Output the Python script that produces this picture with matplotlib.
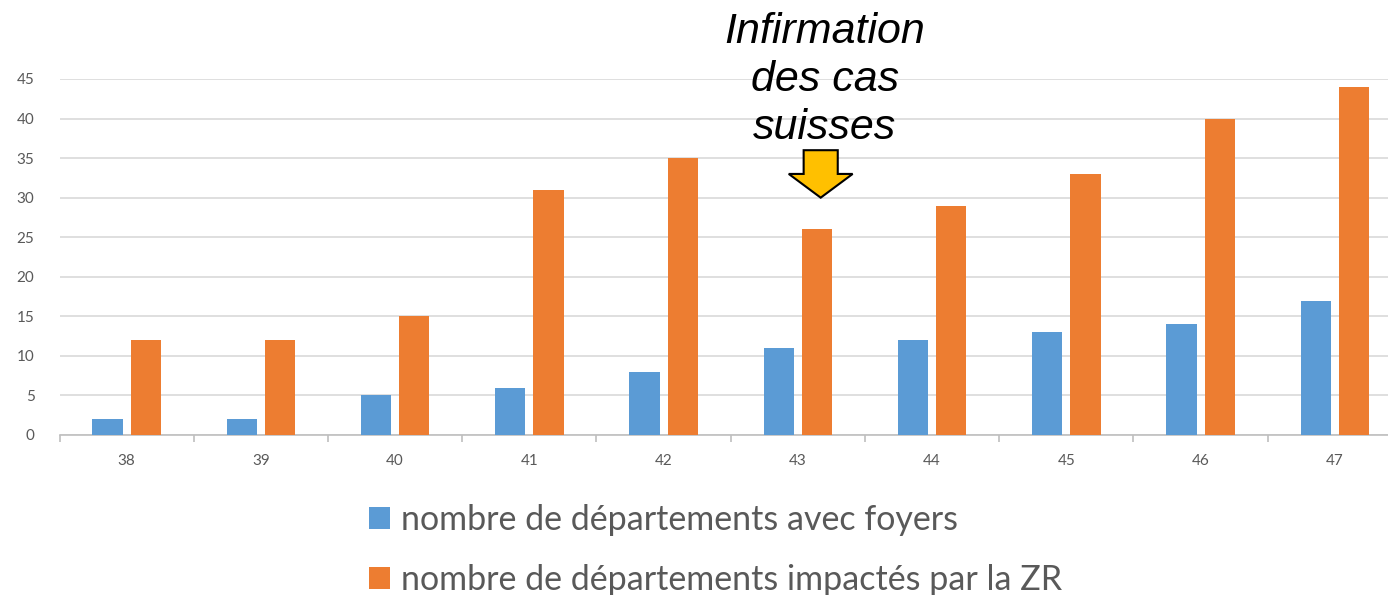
import matplotlib
matplotlib.use("Agg")
import matplotlib.pyplot as plt
from matplotlib.patches import FancyArrow
import numpy as np

weeks = ["38", "39", "40", "41", "42", "43", "44", "45", "46", "47"]
foyers = [2, 2, 5, 6, 8, 11, 12, 13, 14, 17]
zr = [12, 12, 15, 31, 35, 26, 29, 33, 40, 44]
label_foyers = "nombre de départements avec foyers"
label_zr = "nombre de départements impactés par la ZR"
annot_text = "Infirmation\ndes cas\nsuisses"
annot_week = "43"

blue = "#5B9BD5"
orange = "#ED7D31"
grey_txt = "#595959"

W, H = 1388, 595
fig = plt.figure(figsize=(W / 100, H / 100), dpi=100)
left_px, right_px = 59.5, 1402
bot_px, top_px = 435, 79
ax = fig.add_axes([left_px / W, (H - bot_px) / H, (right_px - left_px) / W, (bot_px - top_px) / H])

x = np.arange(len(weeks))
bw = 0.225
off = 0.142
ax.bar(x - off, foyers, bw, color=blue, label=label_foyers, zorder=3)
ax.bar(x + off, zr, bw, color=orange, label=label_zr, zorder=3)

ax.set_xlim(-0.5, len(weeks) - 0.5)
ax.set_ylim(0, 45)
ax.set_yticks(range(0, 46, 5))
ax.yaxis.grid(True, color="#D9D9D9", linewidth=1.2, zorder=0)
ax.set_axisbelow(True)
for s in ["top", "right", "left"]:
    ax.spines[s].set_visible(False)
ax.spines["bottom"].set_color("#BFBFBF")
ax.spines["bottom"].set_linewidth(1.2)
ax.set_xticks(x)
ax.set_xticklabels(weeks)
ax.set_xticks(np.arange(-0.5, len(weeks), 1), minor=True)
ax.tick_params(axis="x", which="major", length=0, pad=14, labelsize=11, labelcolor=grey_txt)
ax.tick_params(axis="x", which="minor", length=5, color="#BFBFBF", width=1.2)
ax.tick_params(axis="y", length=0, pad=18, labelsize=11, labelcolor=grey_txt)
for lbl in ax.get_xticklabels() + ax.get_yticklabels():
    lbl.set_fontfamily("Lato")

# annotation arrow
i = weeks.index(annot_week)
ax_x = i + 0.17
arr = FancyArrow(ax_x, 36, 0, -6, width=0.254, head_width=0.476, head_length=3.0,
                 length_includes_head=True, facecolor="#FFC000", edgecolor="black",
                 linewidth=1.5, zorder=5, clip_on=False)
ax.add_patch(arr)
ax.text(i + 0.2, 36.3, annot_text, ha="center", va="bottom", fontsize=31,
        style="italic", family="Liberation Sans", linespacing=1.26, clip_on=False)

leg = fig.legend(loc="upper left", bbox_to_anchor=(352 / W, 1 - 487 / H), frameon=False,
                 prop={"family": "Lato", "size": 24.5}, labelcolor=grey_txt,
                 handlelength=0.62, handleheight=0.62, handletextpad=0.32,
                 labelspacing=0.82, borderpad=0)

fig.savefig("out.png", dpi=100)
